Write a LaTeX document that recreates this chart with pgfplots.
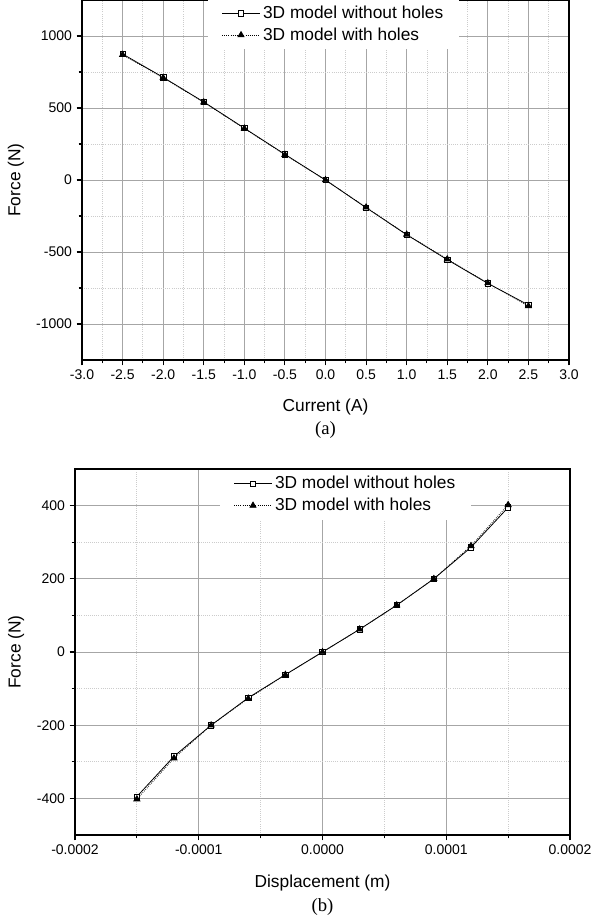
\documentclass[border=0pt]{standalone}
\usepackage{pgfplots}
\pgfplotsset{compat=1.18}
\usepackage{pgfplotstable}
\usepackage{fontspec}
\setmainfont{Liberation Sans}
\newfontfamily\timesfont{Liberation Serif}

\pgfplotstableread{
x    without  with
-2.5  875   870
-2.0  713   710
-1.5  542   540
-1.0  360   358
-0.5  178   176
0.0   0     0
0.5  -192  -190
1.0  -380  -378
1.5  -553  -550
2.0  -718  -716
2.5  -868  -875
}\dataA

\pgfplotstableread{
x         without  with
-0.00015  -395  -402
-0.00012  -285  -290
-0.00009  -200  -200
-0.00006  -125  -127
-0.00003  -62   -62
0.0        0     0
0.00003   62    62
0.00006   128   128
0.00009   200   200
0.00012   286   290
0.00015   395   402
}\dataB

\pgfplotsset{
  common/.style={
    scale only axis,
    axis line style={line width=1.1pt, black},
    tick align=outside,
    tick pos=left,
    major tick length=4pt,
    minor tick length=2.5pt,
    every tick/.style={black, line width=0.8pt},
    grid=both,
    major grid style={line width=0.7pt, gray!70},
    minor grid style={line width=0.6pt, densely dotted, gray!40},
    tick label style={font=\fontsize{10.5}{12}\selectfont},
    label style={font=\fontsize{13}{15}\selectfont},
    /pgf/number format/assume math mode=true,
    /pgf/number format/1000 sep={},
    legend cell align=left,
    legend style={draw=none, fill=white, font=\fontsize{13}{15}\selectfont,
      inner xsep=10pt, inner ysep=3pt, row sep=1.5pt, anchor=center},
    legend image code/.code={
      \draw[mark repeat=2,mark phase=2,#1] plot coordinates {(0cm,0cm) (0.5cm,0cm) (1.0cm,0cm)};},
    clip=false,
  },
  s1/.style={black, line width=0.6pt, mark=square*, mark size=2pt,
    mark options={solid, fill=white, line width=0.5pt}},
  s2/.style={black, line width=0.6pt, densely dotted, mark=triangle*, mark size=2.6pt,
    mark options={solid, fill=black}},
}

\begin{document}
\begin{tikzpicture}
\useasboundingbox (0pt,0pt) rectangle (443.25pt,-688.5pt);

\begin{axis}[common,
  at={(61.5pt,0pt)}, anchor=north west,
  width=365.25pt, height=270pt,
  xmin=-3, xmax=3, ymin=-1250, ymax=1250,
  xtick={-3,-2.5,...,3}, minor x tick num=1,
  ytick={-1000,-500,0,500,1000}, minor y tick num=1,
  xticklabel style={/pgf/number format/fixed, /pgf/number format/precision=1, /pgf/number format/fixed zerofill},
  xlabel={Current (A)}, ylabel={Force (N)},
  xlabel style={at={(axis description cs:0.5,-0.1306)}, anchor=center},
  ylabel style={at={(axis description cs:-0.1355,0.5)}, anchor=center},
  legend style={at={(axis description cs:0.517,0.933)}},
]
\addplot[s1] table[x=x, y=without] {\dataA};
\addlegendentry{3D model without holes}
\addplot[s2] table[x=x, y=with] {\dataA};
\addlegendentry{3D model with holes}
\node[font=\timesfont\fontsize{14}{16}\selectfont] at (axis description cs:0.5,-0.194) {(a)};
\end{axis}

\begin{axis}[common,
  at={(56.25pt,-351.75pt)}, anchor=north west,
  width=371.25pt, height=274.5pt,
  xmin=-0.0002, xmax=0.0002, ymin=-500, ymax=500,
  scaled x ticks=false,
  xtick={-0.0002,-0.0001,0,0.0001,0.0002},
  xticklabels={-0.0002,-0.0001,0.0000,0.0001,0.0002},
  minor x tick num=1,
  ytick={-400,-200,0,200,400}, minor y tick num=1,
  xlabel={Displacement (m)}, ylabel={Force (N)},
  xlabel style={at={(axis description cs:0.5,-0.1303)}, anchor=center},
  ylabel style={at={(axis description cs:-0.119,0.5)}, anchor=center},
  legend style={at={(axis description cs:0.547,0.930)}},
]
\addplot[s1] table[x=x, y=without] {\dataB};
\addlegendentry{3D model without holes}
\addplot[s2] table[x=x, y=with] {\dataB};
\addlegendentry{3D model with holes}
\node[font=\timesfont\fontsize{14}{16}\selectfont] at (axis description cs:0.5,-0.196) {(b)};
\end{axis}
\end{tikzpicture}
\end{document}
